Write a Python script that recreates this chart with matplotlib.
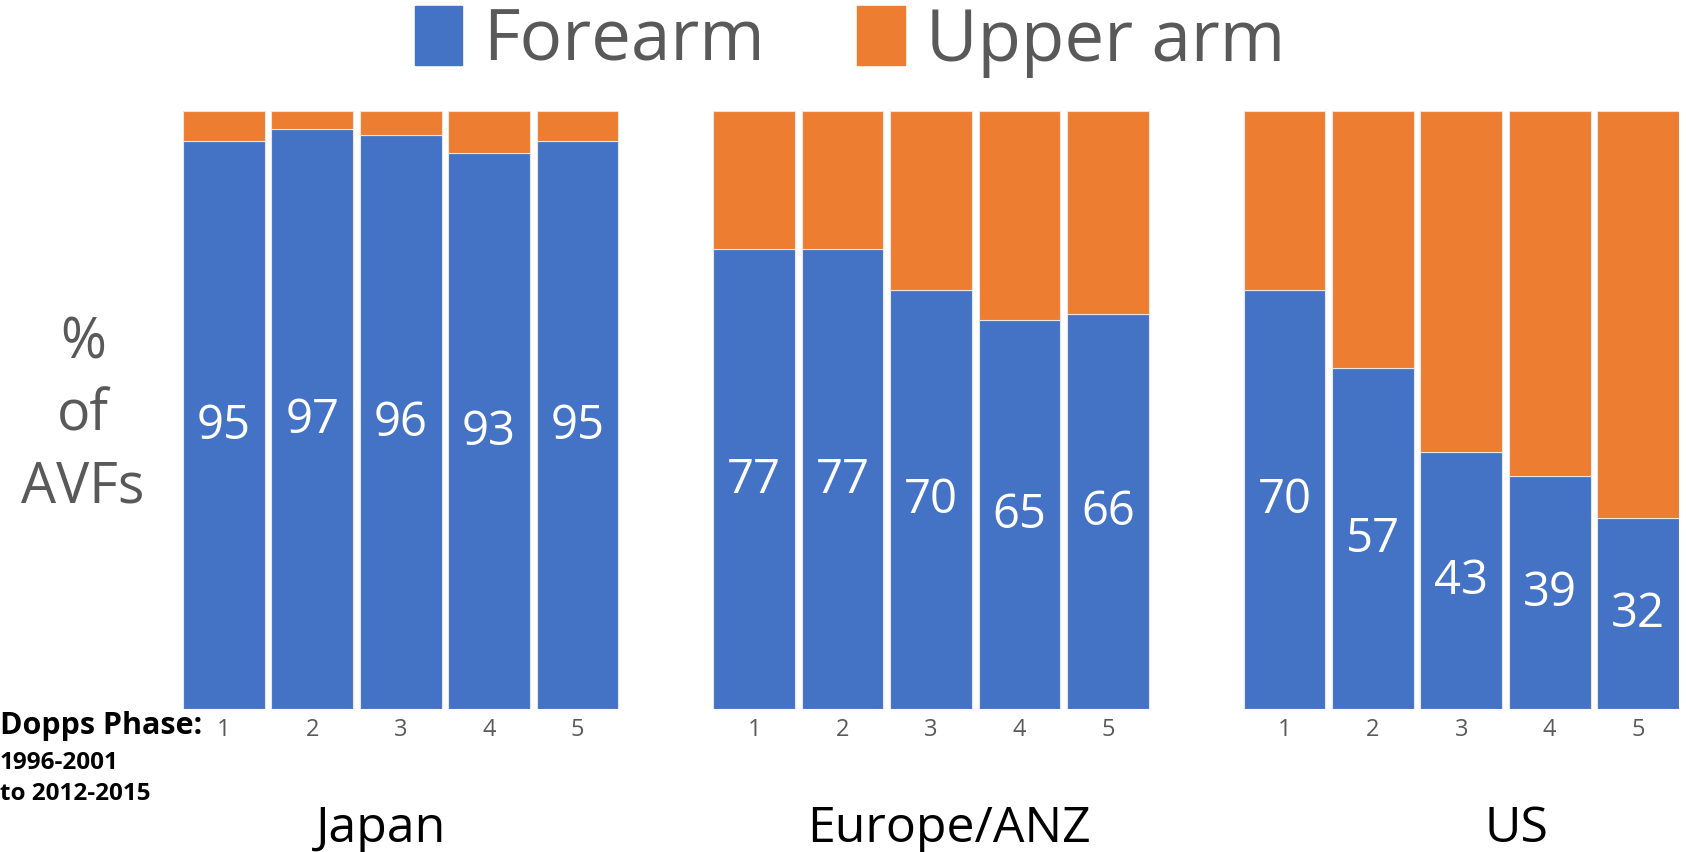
import matplotlib.pyplot as plt
import numpy as np
from matplotlib.patches import Patch

regions = ["Japan", "Europe/ANZ", "US"]
phases = ["1", "2", "3", "4", "5"]
forearm = [
    [95, 97, 96, 93, 95],
    [77, 77, 70, 65, 66],
    [70, 57, 43, 39, 32],
]

BLUE = "#4472C4"
ORANGE = "#ED7D31"
GRAY = "#595959"
FONT = ["Open Sans", "DejaVu Sans"]


def main() -> None:
    W, H = 1686, 853
    fig = plt.figure(figsize=(W / 100, H / 100), dpi=100)
    ax = fig.add_axes([183 / W, 1 - 710 / H, (1679 - 183) / W, (710 - 112) / H])

    width = 0.925
    xs, lows, labels = [], [], []
    for g, vals in enumerate(forearm):
        for i, v in enumerate(vals):
            xs.append(g * 6 + i)
            lows.append(v)
            labels.append(phases[i])
    xs = np.array(xs)
    lows = np.array(lows, dtype=float)
    highs = 100 - lows

    ax.bar(xs, lows, width, color=BLUE, edgecolor="#e6e6e6", linewidth=0.8, label="Forearm")
    ax.bar(xs, highs, width, bottom=lows, color=ORANGE, edgecolor="#e6e6e6", linewidth=0.8,
           label="Upper arm")

    for x, v in zip(xs, lows):
        ax.text(x, v / 2, f"{int(v)}", ha="center", va="center", color="white",
                fontsize=34, family=FONT)

    ax.set_xlim(-width / 2, xs[-1] + width / 2)
    ax.set_ylim(0, 100)
    ax.set_yticks([])
    ax.set_xticks(xs)
    ax.set_xticklabels(labels, fontsize=17, color=GRAY, family=FONT)
    ax.tick_params(axis="x", length=0, pad=6)
    for s in ax.spines.values():
        s.set_visible(False)

    # group names under each cluster
    group_x = [1.78, 8.2, 14.62]
    for gx, name in zip(group_x, regions):
        ax.text(gx, -0.2, name, transform=ax.get_xaxis_transform(), ha="center",
                va="center", fontsize=36, color="black", family=FONT)

    fig.text(0 / W, 1 - 726 / H, "Dopps Phase:", ha="left", va="center",
             fontsize=22, fontweight="bold", family=FONT)
    fig.text(0 / W, 1 - 763 / H, "1996-2001", ha="left", va="center",
             fontsize=17.5, fontweight="bold", family=FONT)
    fig.text(0 / W, 1 - 794 / H, "to 2012-2015", ha="left", va="center",
             fontsize=17.5, fontweight="bold", family=FONT)

    fig.text(83 / W, 1 - 416 / H, "%\nof\nAVFs", ha="center", va="center",
             fontsize=40, color=GRAY, family=FONT, linespacing=1.35)

    handles = [Patch(color=BLUE, label="Forearm"), Patch(color=ORANGE, label="Upper arm")]
    fig.legend(handles=handles, loc="center", bbox_to_anchor=(850 / W, 1 - 42 / H),
               ncol=2, frameon=False, prop={"family": FONT, "size": 51},
               labelcolor=GRAY, handlelength=0.67, handleheight=0.9,
               handletextpad=0.3, columnspacing=1.3)

    fig.savefig("out.png", dpi=100)


if __name__ == "__main__":
    main()
